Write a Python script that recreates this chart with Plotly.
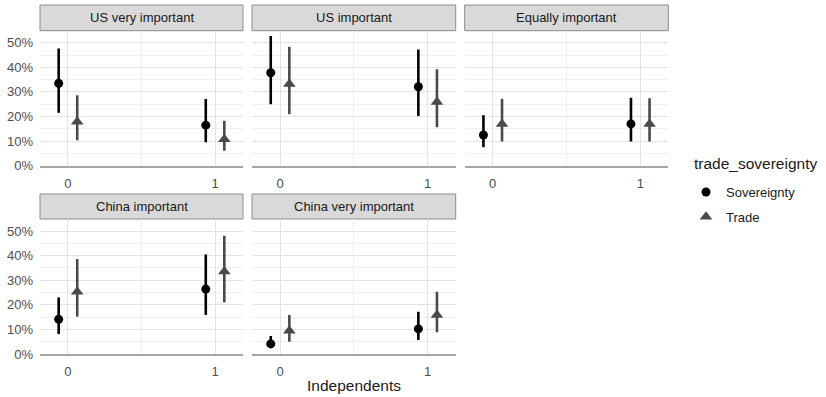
import plotly.graph_objects as go

panels = ["US very important", "US important", "Equally important",
          "China important", "China very important"]
x_cats = [0, 1]
groups = ["Sovereignty", "Trade"]
legend_title = "trade_sovereignty"

# estimates per panel: [x=0, x=1]
sov_est = [[0.335, 0.165], [0.378, 0.321], [0.125, 0.170], [0.141, 0.264], [0.041, 0.102]]
sov_lo  = [[0.215, 0.095], [0.250, 0.202], [0.075, 0.098], [0.081, 0.159], [0.026, 0.057]]
sov_hi  = [[0.477, 0.271], [0.527, 0.473], [0.205, 0.276], [0.230, 0.405], [0.073, 0.172]]
trd_est = [[0.179, 0.108], [0.332, 0.259], [0.170, 0.170], [0.253, 0.335], [0.095, 0.159]]
trd_lo  = [[0.104, 0.061], [0.209, 0.156], [0.098, 0.098], [0.152, 0.210], [0.050, 0.088]]
trd_hi  = [[0.287, 0.183], [0.484, 0.392], [0.272, 0.274], [0.386, 0.481], [0.159, 0.253]]

y_ticks = [0, 0.1, 0.2, 0.3, 0.4, 0.5]
y_tick_text = ["0%", "10%", "20%", "30%", "40%", "50%"]

W, H = 826, 397
def px_x(v):
    return v / W
def px_y(v):
    return 1 - v / H

col_px = [(40, 243), (252, 455.7), (464.7, 668.3)]
row_px = [(30.7, 165.7), (219, 354)]
strip_px = [(5, 30.7), (194, 219)]

styles = {
    "Sovereignty": dict(color="#000000", symbol="circle", size=9, offset=-0.063),
    "Trade": dict(color="#4a4a4a", symbol="triangle-up", size=11, offset=0.063),
}

fig = go.Figure()
layout = {}
shapes = []
annotations = []
FONT = "Liberation Sans, Arial"

for i, name in enumerate(panels):
    r, c = divmod(i, 3)
    n = i + 1
    xa = "x" if n == 1 else f"x{n}"
    ya = "y" if n == 1 else f"y{n}"
    xd = [px_x(col_px[c][0]), px_x(col_px[c][1])]
    yd = [px_y(row_px[r][1]), px_y(row_px[r][0])]
    layout[f"xaxis{'' if n == 1 else n}"] = dict(
        domain=xd, anchor=ya, range=[-0.19, 1.19], automargin=False,
        tickvals=x_cats, ticktext=[str(v) for v in x_cats],
        showgrid=True, gridcolor="#e3e3e3", gridwidth=1,
        minor=dict(showgrid=True, dtick=0.5, tick0=0, gridcolor="#efefef", gridwidth=1),
        zeroline=False, showline=True, linecolor="#a6a6a6", linewidth=1.5,
        ticks="", ticklabelstandoff=5,
        tickfont=dict(family=FONT, size=13, color="#4d4d4d"),
    )
    layout[f"yaxis{'' if n == 1 else n}"] = dict(
        domain=yd, anchor=xa, range=[0, 0.549], automargin=False,
        tickvals=y_ticks, ticktext=y_tick_text, showticklabels=(c == 0),
        showgrid=True, gridcolor="#e3e3e3", gridwidth=1,
        minor=dict(showgrid=True, dtick=0.05, tick0=0, gridcolor="#efefef", gridwidth=1),
        zeroline=False, showline=False, ticks="", ticklabelstandoff=6,
        tickfont=dict(family=FONT, size=13, color="#4d4d4d"),
    )
    shapes.append(dict(type="rect", xref="paper", yref="paper",
                       x0=xd[0], x1=xd[1],
                       y0=px_y(strip_px[r][1]), y1=px_y(strip_px[r][0]),
                       fillcolor="#d9d9d9", line=dict(color="#8c8c8c", width=1),
                       layer="below"))
    annotations.append(dict(text=name, xref="paper", yref="paper",
                            x=(xd[0] + xd[1]) / 2,
                            y=px_y((strip_px[r][0] + strip_px[r][1]) / 2),
                            showarrow=False, xanchor="center", yanchor="middle",
                            font=dict(family=FONT, size=13, color="#1a1a1a")))

    for g, est, lo, hi in [("Sovereignty", sov_est, sov_lo, sov_hi),
                           ("Trade", trd_est, trd_lo, trd_hi)]:
        st = styles[g]
        e = est[i]
        fig.add_trace(go.Scatter(
            x=[xc + st["offset"] for xc in x_cats], y=e,
            mode="markers", xaxis=xa, yaxis=ya, name=g,
            legendgroup=g, showlegend=(i == 0),
            marker=dict(color=st["color"], symbol=st["symbol"], size=st["size"],
                        line=dict(width=0)),
            error_y=dict(type="data", symmetric=False,
                         array=[h - v for h, v in zip(hi[i], e)],
                         arrayminus=[v - l for v, l in zip(e, lo[i])],
                         color=st["color"], thickness=2.6, width=0),
        ))

annotations.append(dict(text="Independents", xref="paper", yref="paper",
                        x=px_x(354), y=px_y(385), showarrow=False,
                        xanchor="center", yanchor="middle",
                        font=dict(family=FONT, size=15.5, color="#1a1a1a")))
annotations.append(dict(text=legend_title, xref="paper", yref="paper",
                        x=px_x(692), y=px_y(163), showarrow=False,
                        xanchor="left", yanchor="middle",
                        font=dict(family=FONT, size=15.5, color="#1a1a1a")))

fig.update_layout(
    width=W, height=H, margin=dict(l=0, r=0, t=0, b=0, autoexpand=False),
    paper_bgcolor="white", plot_bgcolor="white",
    shapes=shapes, annotations=annotations,
    legend=dict(x=px_x(686), y=px_y(177), xanchor="left", yanchor="top",
                font=dict(family=FONT, size=13, color="#1a1a1a"),
                tracegroupgap=5, bgcolor="rgba(0,0,0,0)"),
    **layout,
)

fig.write_html("out.html", config={"displayModeBar": False},
               post_script="document.body.style.margin='0px';document.body.style.overflow='hidden';")
